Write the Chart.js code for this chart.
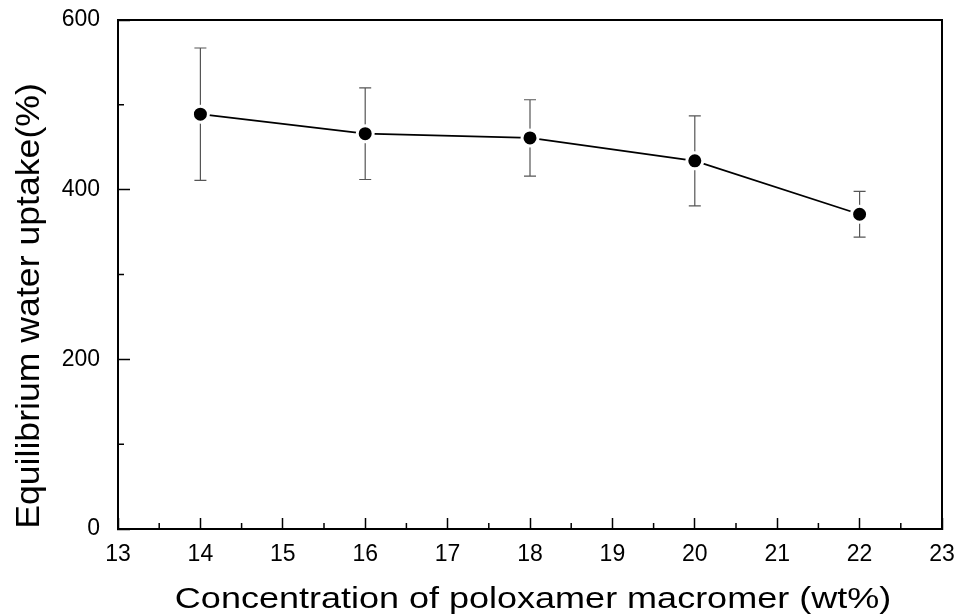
<!DOCTYPE html>
<html>
<head>
<meta charset="utf-8">
<script src="https://cdn.jsdelivr.net/npm/chart.js@4"></script>
<style>
    html, body { margin: 0; padding: 0; background: #fff; }
    #wrap { width: 956px; height: 616px; }
</style>
</head>
<body>
<div id="wrap"><canvas id="chart"></canvas></div>
<script>
// Data
const concentration = [14, 16, 18, 20, 22];          // wt%
const waterUptake = [489, 466, 461, 434, 371];       // %
const uptakeError = [78, 54, 45, 53, 27];            // +/- SD
const yMinorTicks = [100, 300, 500];
const xMinorTicks = [13.5, 14.5, 15.5, 16.5, 17.5, 18.5, 19.5, 20.5, 21.5, 22.5];
const xTitle = 'Concentration of poloxamer macromer (wt%)';
const yTitle = 'Equilibrium water uptake(%)';

const points = concentration.map((x, i) => ({ x: x, y: waterUptake[i] }));
const FONT = 'Liberation Sans, Arial, sans-serif';

// Error bars, drawn under the markers
const errorBars = {
    id: 'errorBars',
    beforeDatasetsDraw(chart) {
        const { ctx, scales: { x, y } } = chart;
        ctx.save();
        ctx.strokeStyle = '#555';
        ctx.lineWidth = 1.2;
        concentration.forEach((c, i) => {
            const px = x.getPixelForValue(c);
            const top = y.getPixelForValue(waterUptake[i] + uptakeError[i]);
            const bot = y.getPixelForValue(waterUptake[i] - uptakeError[i]);
            ctx.beginPath();
            ctx.moveTo(px, top);
            ctx.lineTo(px, bot);
            ctx.moveTo(px - 6, top);
            ctx.lineTo(px + 6, top);
            ctx.moveTo(px - 6, bot);
            ctx.lineTo(px + 6, bot);
            ctx.stroke();
        });
        ctx.restore();
    }
};

// Box frame, minor ticks pointing inward, and the (slightly wide) axis titles
const frame = {
    id: 'frame',
    afterDraw(chart) {
        const { ctx, chartArea: a, scales: { x, y } } = chart;
        ctx.save();
        ctx.strokeStyle = '#000';
        ctx.lineWidth = 2;
        ctx.beginPath();
        ctx.moveTo(a.left, a.top);
        ctx.lineTo(a.right, a.top);
        ctx.lineTo(a.right, a.bottom);
        ctx.stroke();

        ctx.lineWidth = 1.5;
        ctx.beginPath();
        xMinorTicks.forEach(v => {
            const px = x.getPixelForValue(v);
            ctx.moveTo(px, a.bottom);
            ctx.lineTo(px, a.bottom - 6);
        });
        yMinorTicks.forEach(v => {
            const py = y.getPixelForValue(v);
            ctx.moveTo(a.left, py);
            ctx.lineTo(a.left + 6, py);
        });
        ctx.stroke();

        ctx.fillStyle = '#000';
        ctx.textAlign = 'center';
        ctx.textBaseline = 'alphabetic';

        ctx.save();
        ctx.translate(533, 608);
        ctx.scale(1.2, 1);
        ctx.font = '30px ' + FONT;
        ctx.fillText(xTitle, 0, 0);
        ctx.restore();

        ctx.save();
        ctx.translate(39, 306);
        ctx.rotate(-Math.PI / 2);
        ctx.scale(1.08, 1);
        ctx.font = '33px ' + FONT;
        ctx.fillText(yTitle, 0, 0);
        ctx.restore();

        ctx.restore();
    }
};

const ctx = document.getElementById('chart').getContext('2d');

new Chart(ctx, {
    type: 'line',
    data: {
        datasets: [{
            data: points,
            borderColor: '#000',
            borderWidth: 1.8,
            backgroundColor: '#000',
            pointRadius: 8,
            pointBorderWidth: 3,
            pointBorderColor: '#fff',
            pointBackgroundColor: '#000',
            tension: 0
        }]
    },
    options: {
        responsive: true,
        maintainAspectRatio: false,
        animation: false,
        layout: { padding: { left: 0, right: 14, top: 20, bottom: 0 } },
        plugins: {
            legend: { display: false },
            tooltip: { enabled: false }
        },
        scales: {
            x: {
                type: 'linear',
                min: 13,
                max: 23,
                afterFit: (scale) => {
                    scale.height = 87;
                    scale.paddingLeft = 0;
                    scale.paddingRight = 0;
                },
                ticks: {
                    stepSize: 1,
                    padding: 23,
                    color: '#000',
                    font: { family: FONT, size: 23 }
                },
                grid: {
                    drawOnChartArea: false,
                    tickLength: -11,
                    tickWidth: 1.5,
                    tickColor: '#000'
                },
                border: { color: '#000', width: 2 }
            },
            y: {
                min: 0,
                max: 600,
                afterFit: (scale) => {
                    scale.width = 118;
                    scale.paddingTop = 0;
                    scale.paddingBottom = 0;
                },
                ticks: {
                    stepSize: 200,
                    padding: 30,
                    color: '#000',
                    font: { family: FONT, size: 23 }
                },
                grid: {
                    drawOnChartArea: false,
                    tickLength: -12,
                    tickWidth: 1.5,
                    tickColor: '#000'
                },
                border: { color: '#000', width: 2 }
            }
        }
    },
    plugins: [errorBars, frame]
});
</script>
</body>
</html>
